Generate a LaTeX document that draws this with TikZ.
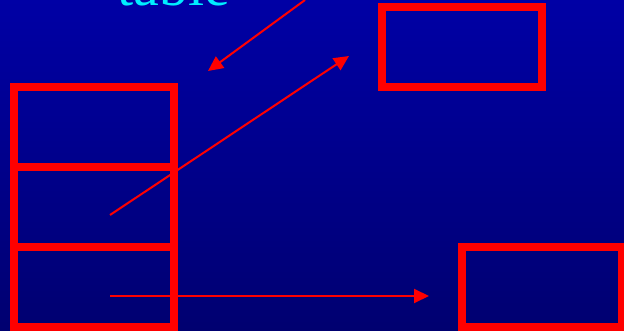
\documentclass[tikz,border=0pt]{standalone}
\usepackage{fontspec}
\setmainfont{Liberation Serif}
\usetikzlibrary{arrows.meta}
\definecolor{bgtop}{RGB}{0,0,165}
\definecolor{bgbot}{RGB}{0,0,112}
\definecolor{redline}{RGB}{255,0,0}
\definecolor{titlecyan}{RGB}{0,238,255}
\begin{document}
\begin{tikzpicture}[x=1pt,y=-1pt,
  cellbox/.style={draw=redline,line width=8pt,minimum width=160pt,minimum height=80pt,inner sep=0pt},
  ptr/.style={draw=redline,line width=2pt,-{Triangle[length=15pt,width=14pt]}}]
\useasboundingbox (0,0) rectangle (624,331);
\clip (0,0) rectangle (624,331);
\shade[top color=bgtop,bottom color=bgbot] (0,0) rectangle (624,331);
\node[text=titlecyan,font=\fontsize{58}{60}\selectfont,anchor=base,inner sep=0pt] (title) at (174,6) {table};
\node[cellbox] (c1) at (94,127) {};
\node[cellbox] (c2) at (94,207) {};
\node[cellbox] (c3) at (94,287) {};
\node[cellbox] (b1) at (462,47) {};
\node[cellbox] (b2) at (542,287) {};
\coordinate (a1s) at (305,0);
\coordinate (a1e) at (208,71);
\coordinate (a2s) at (110,215);
\coordinate (a2e) at (349,56);
\coordinate (a3s) at (110,296);
\coordinate (a3e) at (429,296);
\draw[ptr] (a1s) -- (a1e);
\draw[ptr] (a2s) -- (a2e);
\draw[ptr] (a3s) -- (a3e);
\end{tikzpicture}
\end{document}
